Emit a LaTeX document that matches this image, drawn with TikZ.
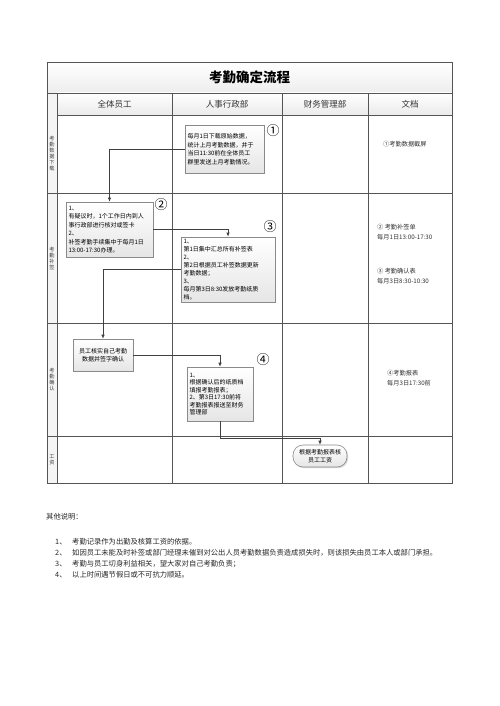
\documentclass[tikz,border=0pt]{standalone}
\usepackage{fontspec}
\setmainfont{Noto Sans CJK SC}
\usetikzlibrary{arrows.meta,shadows,calc}
\definecolor{tline}{HTML}{555555}
\definecolor{boxgray}{HTML}{8A8A8A}
\definecolor{conn}{HTML}{404040}
\begin{document}
\begin{tikzpicture}[x=1pt,y=-1pt,
  gridline/.style={draw=tline,line width=0.7pt},
  stepbox/.style={draw=boxgray,line width=0.6pt,top color=white,bottom color=gray!20,
    drop shadow={shadow xshift=1.2pt,shadow yshift=-1.2pt,opacity=0.3},
    inner sep=2.5pt,font=\fontsize{6}{8.5}\selectfont,align=left},
  termbox/.style={stepbox,rounded corners=10pt,align=center},
  connector/.style={draw=conn,line width=0.7pt,-{Latex[length=4pt,width=3.5pt]}},
  circnum/.style={font=\fontsize{13}{13}\selectfont,inner sep=0pt},
  headtext/.style={font=\fontsize{8.5}{10}\selectfont,text=black!80},
  lanelabel/.style={font=\fontsize{5.2}{6}\selectfont,align=center,text=black!75,inner sep=0pt},
  doctext/.style={font=\fontsize{6.2}{10}\selectfont,align=left,anchor=west,inner sep=0pt,text=black!80},
  notetext/.style={font=\fontsize{7.3}{9}\selectfont,anchor=west,inner sep=0pt,text=black!85}]
\useasboundingbox (0,0) rectangle (500,706);
\fill[white] (0,0) rectangle (500,706);
% backgrounds
\shade[top color=white,bottom color=gray!14] (47,62) rectangle (452,93);
\shade[top color=white,bottom color=gray!16] (57,93) rectangle (452,115);
\fill[gray!9] (47,93) rectangle (57,483);
% grid
\draw[gridline] (47,62) rectangle (452,483);
\draw[gridline] (47,93) -- (452,93);
\draw[gridline] (57,93) -- (57,483);
\draw[gridline] (57,115) -- (452,115);
\foreach \yy in {193,323,436} \draw[gridline] (47,\yy) -- (452,\yy);
\foreach \xx in {172,282,368} \draw[gridline] (\xx,93) -- (\xx,483);
% title and headers
\node[font=\fontsize{13.5}{15}\bfseries\selectfont] (title) at (249.5,77.5) {考勤确定流程};
\node[headtext] (h1) at (114.5,104) {全体员工};
\node[headtext] (h2) at (227,104) {人事行政部};
\node[headtext] (h3) at (325,104) {财务管理部};
\node[headtext] (h4) at (410,104) {文档};
% lane labels
\node[lanelabel] (l1) at (52,154) {考\\勤\\数\\据\\下\\载};
\node[lanelabel] (l2) at (52,258) {考\\勤\\补\\签};
\node[lanelabel] (l3) at (52,380) {考\\勤\\确\\认};
\node[lanelabel] (l4) at (52,460) {工\\资};
% boxes
\node[stepbox,text width=74pt,minimum height=48pt] (b1) at (224.5,149)
  {每月1日下载原始数据，\\统计上月考勤数据，并于\\当日11:30前在全体员工\\群里发送上月考勤情况。};
\node[stepbox,text width=82pt,minimum height=55pt] (b2) at (109.5,229.5)
  {1、\\有疑议时，1个工作日内到人\\事行政部进行核对或签卡\\2、\\补签考勤手续集中于每月1日\\13:00-17:30办理。};
\node[stepbox,text width=89pt,minimum height=65pt,font=\fontsize{6}{7.9}\selectfont] (b3) at (228,269.5)
  {1、\\第1日集中汇总所有补签表\\2、\\第2日根据员工补签数据更新\\考勤数据；\\3、\\每月第3日8:30发放考勤纸质\\档。};
\node[stepbox,text width=55pt,minimum height=32pt,align=center] (b4) at (103,355)
  {员工核实自己考勤\\数据并签字确认};
\node[stepbox,text width=61pt,minimum height=54pt,font=\fontsize{6}{7.5}\selectfont] (b5) at (220,394)
  {1、\\根据确认后的纸质档\\填报考勤报表；\\2、第3日17:30前将\\考勤报表报送至财务\\管理部};
\node[termbox,text width=50pt,minimum height=22pt,inner sep=2pt,font=\fontsize{6}{7.5}\selectfont] (t1) at (320,456)
  {根据考勤报表核\\员工工资};
% circled numbers
\node[circnum] (c1) at (273,131) {①};
\node[circnum] (c2) at (161,205) {②};
\node[circnum] (c3) at (270,227) {③};
\node[circnum] (c4) at (263,360) {④};
% connectors
\coordinate (bend) at (220,438);
\draw[connector] (b1.west) -| (b2.north);
\draw[connector] (b2.east) -| (b3.north);
\draw[connector] (b3.west) -| (b4.north);
\draw[connector] (b4.east) -| (b5.north);
\draw[connector] (b5.south) -- (bend) -| (t1.north);
% document column
\node[doctext] (d1) at (383,144) {①考勤数据截屏};
\node[doctext] (d2) at (377,232) {② 考勤补签单\\每月1日13:00-17:30};
\node[doctext] (d3) at (377,276) {③ 考勤确认表\\每月3日8:30-10:30};
\node[doctext] (d4) at (387,378) {④考勤报表\\每月3日17:30前};
% notes
\node[notetext] (n0) at (46,517) {其他说明：};
\node[notetext] (n1a) at (55,542) {1、};
\node[notetext] (n1) at (72,542) {考勤记录作为出勤及核算工资的依据。};
\node[notetext] (n2a) at (55,553) {2、};
\node[notetext] (n2) at (72,553) {如因员工未能及时补签或部门经理未催到对公出人员考勤数据负责造成损失时，则该损失由员工本人或部门承担。};
\node[notetext] (n3a) at (55,564) {3、};
\node[notetext] (n3) at (72,564) {考勤与员工切身利益相关，望大家对自己考勤负责；};
\node[notetext] (n4a) at (55,575) {4、};
\node[notetext] (n4) at (72,575) {以上时间遇节假日或不可抗力顺延。};
\end{tikzpicture}
\end{document}
